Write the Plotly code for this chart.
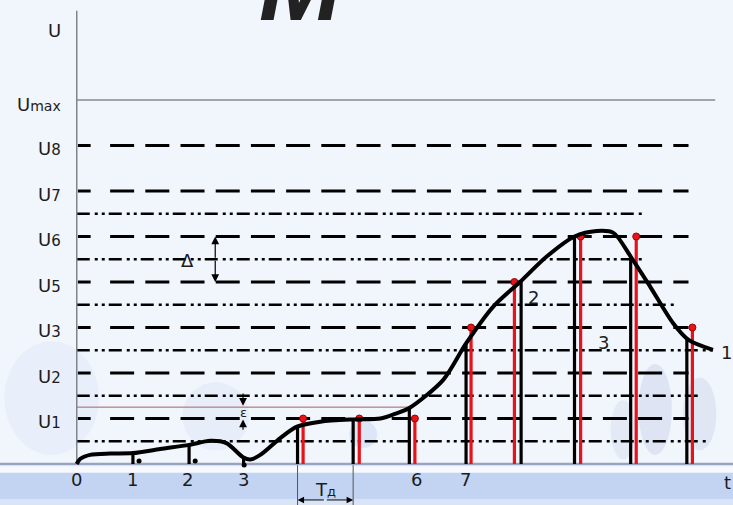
import plotly.graph_objects as go

# ---------------- data ----------------
level_vals = [1, 2, 3, 4, 5, 6, 7]
level_labels = ["1", "2", "3", "5", "6", "7", "8"]
level_end = 11.0
umax_level = 8
umax_end = 11.48
axis_top = 9.96
u_label_level = 9.52

half_levels = [0.5, 1.5, 2.5, 3.5, 4.5, 5.5]
half_ends = [11.35, 11.21, 11.44, 10.80, 10.19, 10.19]

curve_t = [0.0, 0.06, 0.24, 0.60, 1.01, 1.50, 2.02, 2.40, 2.69, 2.99, 3.12, 3.30,
           3.66, 3.96, 4.38, 4.97, 5.46, 5.72, 5.98, 6.59, 7.00, 7.49, 7.97, 8.45,
           8.95, 9.35, 9.65, 9.96, 10.31, 10.72, 11.00, 11.44]
curve_u = [0.0, 0.11, 0.20, 0.23, 0.24, 0.33, 0.42, 0.51, 0.46, 0.15, 0.10, 0.20,
           0.57, 0.82, 0.93, 0.98, 1.00, 1.10, 1.23, 1.85, 2.65, 3.46, 4.00, 4.56,
           5.00, 5.12, 5.08, 4.56, 3.90, 3.10, 2.73, 2.51]

sample_t = [3.97, 4.97, 5.98, 7.00, 7.99, 8.95, 9.96, 10.97]
sample_u = [0.82, 0.98, 1.23, 2.65, 4.00, 5.00, 4.56, 2.73]
quant_t = [4.07, 5.08, 6.08, 7.09, 7.87, 9.06, 10.06, 11.07]
quant_u = [1, 1, 1, 3, 4, 5, 5, 3]

stub_t = [1.01, 2.02, 3.00]
stub_u = [0.24, 0.42, 0.15]
dot_t = [1.12, 2.13, 3.01]
dot_u = [0.066, 0.066, -0.02]

tick_t = [0, 1.01, 2.0, 3.0, 6.1, 6.99]
tick_text = ["0", "1", "2", "3", "6", "7"]

eps_level = 1.25
eps_end = 5.98
delta_t = 2.49
eps_t = 2.99
td_left, td_right = 3.97, 4.97

curve_names = ["1", "2", "3"]
curve_name_t = [11.69, 8.21, 9.48]
curve_name_u = [2.44, 3.67, 2.66]

# ---------------- figure ----------------
FONT = "DejaVu Sans"
fig = go.Figure()

def segs(xs0, xs1, ys0, ys1):
    X, Y = [], []
    for a, b, c, d in zip(xs0, xs1, ys0, ys1):
        X += [a, b, None]
        Y += [c, d, None]
    return X, Y

LEAD_START = 0.02
FIRST_DASH_END = 0.25   # short leading dash next to the axis
DASH_START = 0.60
dash_main = "24px,11.2px"
dash_dot = "13px,5px,3px,4px,3px,4px"

# Umax line
fig.add_trace(go.Scatter(x=[0, umax_end], y=[umax_level, umax_level], mode="lines",
                         line=dict(color="#858a92", width=1.5), hoverinfo="skip"))
# dashed quantization levels: short lead dash + regular dashes
for lv in level_vals:
    fig.add_trace(go.Scatter(x=[LEAD_START, FIRST_DASH_END], y=[lv, lv], mode="lines",
                             line=dict(color="black", width=3), hoverinfo="skip"))
    fig.add_trace(go.Scatter(x=[DASH_START, level_end], y=[lv, lv], mode="lines",
                             line=dict(color="black", width=3, dash=dash_main),
                             hoverinfo="skip"))
# dash-dot half levels
for lv, e in zip(half_levels, half_ends):
    fig.add_trace(go.Scatter(x=[0, e], y=[lv, lv], mode="lines",
                             line=dict(color="black", width=2.6, dash=dash_dot),
                             hoverinfo="skip"))
# thin epsilon reference line
fig.add_trace(go.Scatter(x=[0, eps_end], y=[eps_level, eps_level], mode="lines",
                         line=dict(color="#a86060", width=1), hoverinfo="skip"))
# Td extension lines
fig.add_trace(go.Scatter(x=[td_left, td_left, None, td_right, td_right],
                         y=[0, -0.95, None, 0, -0.95], mode="lines",
                         line=dict(color="#555", width=1), hoverinfo="skip"))
# axes
fig.add_trace(go.Scatter(x=[-1.4, 11.9], y=[0, 0], mode="lines",
                         line=dict(color="#9aa2c4", width=2.5), hoverinfo="skip"))
fig.add_trace(go.Scatter(x=[0, 0], y=[0, axis_top], mode="lines",
                         line=dict(color="#80858c", width=1.5), hoverinfo="skip"))
# black sample stems
X, Y = segs(sample_t, sample_t, [0] * len(sample_t), sample_u)
fig.add_trace(go.Scatter(x=X, y=Y, mode="lines",
                         line=dict(color="black", width=3.2), hoverinfo="skip"))
X, Y = segs(stub_t, stub_t, [0] * len(stub_t), stub_u)
fig.add_trace(go.Scatter(x=X, y=Y, mode="lines",
                         line=dict(color="black", width=3.2), hoverinfo="skip"))
fig.add_trace(go.Scatter(x=dot_t, y=dot_u, mode="markers",
                         marker=dict(color="black", size=5), hoverinfo="skip"))
# red quantized stems
X, Y = segs(quant_t, quant_t, [0] * len(quant_t), quant_u)
fig.add_trace(go.Scatter(x=X, y=Y, mode="lines",
                         line=dict(color="#e8121a", width=3.2), hoverinfo="skip"))
fig.add_trace(go.Scatter(x=quant_t, y=quant_u, mode="markers",
                         marker=dict(color="#e8121a", size=7, line=dict(color="#a00000", width=1)),
                         hoverinfo="skip"))
# the signal curve
fig.add_trace(go.Scatter(x=curve_t, y=curve_u, mode="lines",
                         line=dict(color="black", width=4, shape="spline", smoothing=0.8),
                         hoverinfo="skip"))

ann = []
# left labels
LX = -0.25
ann.append(dict(x=LX, y=u_label_level, text="U", xanchor="right"))
ann.append(dict(x=LX, y=umax_level - 0.09,
                text="U<span style='font-size:14px'>max</span>", xanchor="right"))
for lv, lb in zip(level_vals, level_labels):
    ann.append(dict(x=LX, y=lv - 0.07,
                    text="U<span style='font-size:15px'>" + lb + "</span>", xanchor="right"))
# tick labels
for t, s in zip(tick_t, tick_text):
    ann.append(dict(x=t, y=-0.35, text=s, xanchor="center"))
ann.append(dict(x=11.71, y=-0.40, text="t", xanchor="center"))
# curve / line names
for s, t, u in zip(curve_names, curve_name_t, curve_name_u):
    ann.append(dict(x=t, y=u, text=s, xanchor="center"))
# delta, epsilon, Td texts
ann.append(dict(x=2.0, y=4.48, text="Δ", xanchor="center", size=18))
ann.append(dict(x=eps_t, y=1.13, text="ε", xanchor="center", size=13))
ann.append(dict(x=(td_left + td_right) / 2, y=-0.57,
                text="T<span style='font-size:13px'>д</span>", xanchor="center"))

annotations = []
for a in ann:
    annotations.append(dict(x=a["x"], y=a["y"], text=a["text"], xanchor=a["xanchor"],
                            yanchor="middle", showarrow=False,
                            font=dict(family=FONT, size=a.get("size", 18), color="#1c1c1c")))

def arrow(x, y, ax, ay, w=1.2):
    return dict(x=x, y=y, ax=ax, ay=ay, xref="x", yref="y", axref="x", ayref="y",
                text="", showarrow=True, arrowhead=2, arrowsize=1.3, arrowwidth=w,
                arrowcolor="black")

mid = 4.5
annotations += [arrow(delta_t, 5, delta_t, mid), arrow(delta_t, 4, delta_t, mid)]
annotations += [arrow(eps_t, 1.28, eps_t, 1.58), arrow(eps_t, 0.98, eps_t, 0.72)]
tdm = (td_left + td_right) / 2
annotations += [arrow(td_left, -0.79, tdm, -0.79, 1), arrow(td_right, -0.79, tdm, -0.79, 1)]

# decorative blurred letter at top (only its lower part is visible)
annotations.append(dict(x=0.412, y=1.03, xref="paper", yref="paper", text="<b><i>M</i></b>",
                        showarrow=False, yanchor="middle", xanchor="center",
                        font=dict(family="Liberation Sans", size=100, color="#222222")))

shapes = [
    dict(type="rect", xref="paper", yref="y", x0=0, x1=1, y0=-0.07, y1=-0.19,
         fillcolor="#f6f9ff", line=dict(width=0), layer="below"),
    dict(type="rect", xref="paper", yref="y", x0=0, x1=1, y0=-0.19, y1=-0.78,
         fillcolor="#c2d4f2", line=dict(width=0), layer="below"),
    dict(type="rect", xref="paper", yref="y", x0=0, x1=1, y0=-0.78, y1=-0.92,
         fillcolor="#d9e4f7", line=dict(width=0), layer="below"),
    dict(type="circle", xref="x", yref="y", x0=-1.3, x1=0.4, y0=0.2, y1=2.7,
         fillcolor="#dbe6f6", opacity=0.35, line=dict(width=0), layer="below"),
    dict(type="circle", xref="x", yref="y", x0=1.9, x1=3.1, y0=0.3, y1=1.8,
         fillcolor="#d6e2f4", opacity=0.35, line=dict(width=0), layer="below"),
    dict(type="circle", xref="x", yref="y", x0=4.9, x1=5.4, y0=0.35, y1=0.95,
         fillcolor="#c9d8f0", opacity=0.5, line=dict(width=0), layer="below"),
    dict(type="circle", xref="x", yref="y", x0=10.1, x1=10.7, y0=0.2, y1=2.2,
         fillcolor="#b9c6e2", opacity=0.35, line=dict(width=0), layer="below"),
    dict(type="circle", xref="x", yref="y", x0=10.9, x1=11.5, y0=0.3, y1=1.9,
         fillcolor="#bfcbe6", opacity=0.35, line=dict(width=0), layer="below"),
    dict(type="circle", xref="x", yref="y", x0=9.6, x1=10.05, y0=0.1, y1=1.4,
         fillcolor="#c3cfe8", opacity=0.3, line=dict(width=0), layer="below"),
]

fig.update_layout(
    width=733, height=505,
    margin=dict(l=0, r=0, t=0, b=0),
    paper_bgcolor="#f1f5fc", plot_bgcolor="rgba(0,0,0,0)",
    showlegend=False,
    xaxis=dict(range=[-1.38, 11.80], visible=False, fixedrange=True),
    yaxis=dict(range=[-0.901, 10.198], visible=False, fixedrange=True),
    annotations=annotations,
    shapes=shapes,
)

fig.write_html("out.html", config={"displayModeBar": False},
               post_script="document.body.style.margin='0';document.body.style.overflow='hidden';")
